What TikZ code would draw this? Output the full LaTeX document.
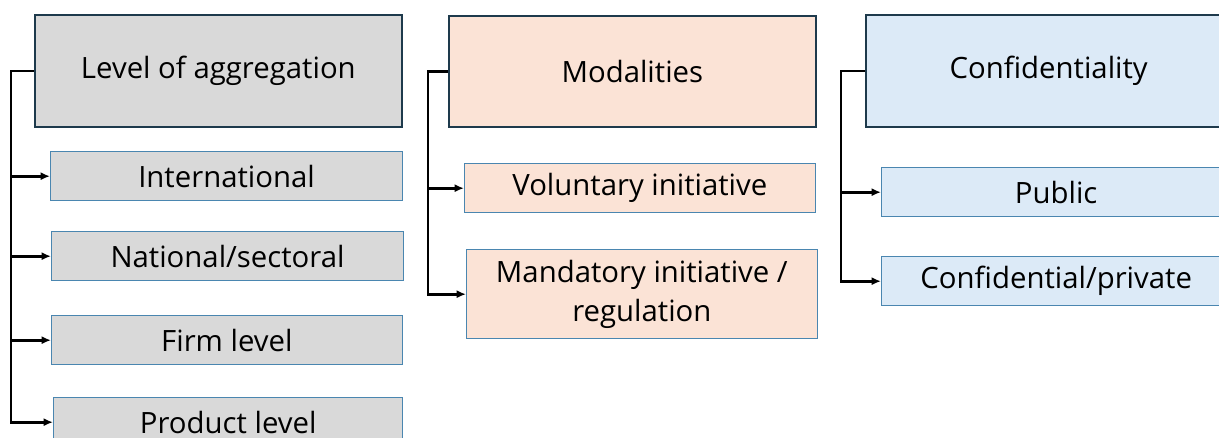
\documentclass[tikz,border=0pt]{standalone}
\usepackage{fontspec}
\setmainfont{Open Sans}
\usetikzlibrary{arrows.meta}

\definecolor{aggfill}{HTML}{D9D9D9}
\definecolor{modfill}{HTML}{FBE3D6}
\definecolor{conffill}{HTML}{DCEAF7}
\definecolor{headline}{HTML}{1E3A4C}
\definecolor{itemline}{HTML}{4A86B0}

\tikzset{
  head/.style={draw=headline, line width=1.5pt, anchor=north west, inner sep=0pt,
    font=\fontsize{22}{29}\selectfont},
  item/.style={draw=itemline, line width=0.8pt, anchor=north west, inner sep=0pt,
    align=center, font=\fontsize{22}{29}\selectfont},
  link/.style={line width=2pt, -{Latex[length=7pt,width=6pt]}}
}

\begin{document}
\begin{tikzpicture}[x=0.75pt,y=-0.75pt]
    \clip (0,0) rectangle (1219,438);

    % === Level of aggregation (Left) ===
    \node[head, fill=aggfill, minimum width=275pt, minimum height=84pt] (agg) at (34,14) {Level of aggregation};
    \node[item, fill=aggfill, minimum width=264pt, minimum height=37pt] (intl) at (50,151) {International};
    \node[item, fill=aggfill, minimum width=264pt, minimum height=37pt] (natl) at (51,231) {National/sectoral};
    \node[item, fill=aggfill, minimum width=263pt, minimum height=37pt] (firm) at (51,315) {Firm level};
    \node[item, fill=aggfill, minimum width=262pt, minimum height=37pt] (prod) at (53,397) {Product level};

    % Spine
    \coordinate (s1) at (11,0);
    \draw[link] (agg.west) -- (agg.west -| s1) |- (prod.west);
    \foreach \n in {intl,natl,firm}
      \draw[link] (\n.west -| s1) -- (\n.west);

    % === Modalities (Middle) ===
    \node[head, fill=modfill, minimum width=275pt, minimum height=83pt] (mod) at (448,15) {Modalities};
    \node[item, fill=modfill, minimum width=263pt, minimum height=37pt] (vol) at (464,163) {Voluntary initiative};
    \node[item, fill=modfill, minimum width=263pt, minimum height=67pt] (mand) at (466,249) {Mandatory initiative /\\regulation};

    % Spine
    \coordinate (s2) at (428,0);
    \draw[link] (mod.west) -- (mod.west -| s2) |- (mand.west);
    \draw[link] (vol.west -| s2) -- (vol.west);

    % === Confidentiality (Right) ===
    \node[head, fill=conffill, minimum width=274pt, minimum height=84pt] (conf) at (865,14) {Confidentiality};
    \node[item, fill=conffill, minimum width=262pt, minimum height=37pt] (pub) at (881,167) {Public};
    \node[item, fill=conffill, minimum width=262pt, minimum height=37pt] (priv) at (881,256) {Confidential/private};

    % Spine
    \coordinate (s3) at (841,0);
    \draw[link] (conf.west) -- (conf.west -| s3) |- (priv.west);
    \draw[link] (pub.west -| s3) -- (pub.west);

\end{tikzpicture}
\end{document}
